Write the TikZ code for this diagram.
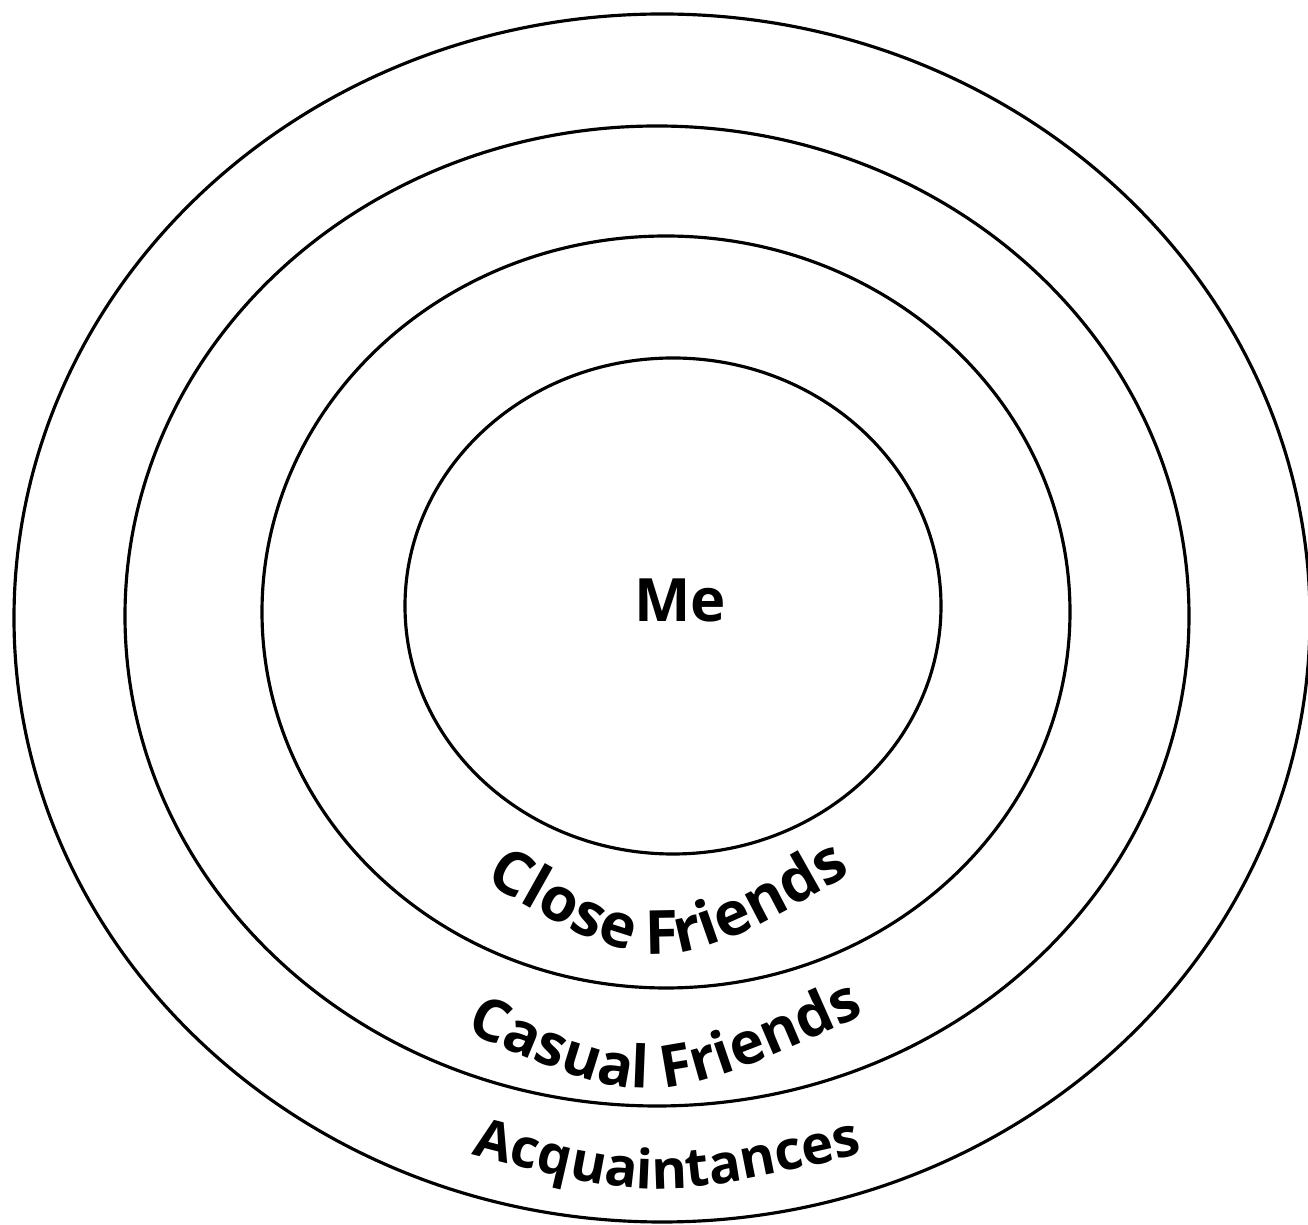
\documentclass[tikz,border=0pt]{standalone}
\usepackage{fontspec}
\setmainfont{Open Sans}
\usetikzlibrary{decorations.text}
\begin{document}
\begin{tikzpicture}[x=0.01cm, y=-0.01cm,
  ring/.style={draw, line width=0.9pt},
  bandtext/.style 2 args={decorate, decoration={text along path, text align=center,
    text={|\fontsize{#1}{#1}\selectfont\bfseries|#2}}}]
\useasboundingbox (0,0) rectangle (1308,1225);
% rings, outer to inner
\draw[ring] (662,618) ellipse [x radius=648, y radius=604];
\draw[ring] (657,616) ellipse [x radius=532, y radius=490];
\draw[ring] (666,612) ellipse [x radius=404, y radius=376];
\draw[ring] (673,606) ellipse [x radius=268, y radius=248];
\node[font=\fontsize{17}{17}\selectfont\bfseries, anchor=base] (me) at (680,622) {Me};
% curved band labels
\path[bandtext={17.3}{Close Friends}] (458,866) .. controls (660,985) .. (878,858);
\path[bandtext={16.6}{Casual Friends}] (450,1025) .. controls (650,1112) .. (880,1008);
\path[bandtext={15.4}{Acquaintances}] (455,1150) .. controls (655,1202) .. (880,1150);
\end{tikzpicture}
\end{document}
